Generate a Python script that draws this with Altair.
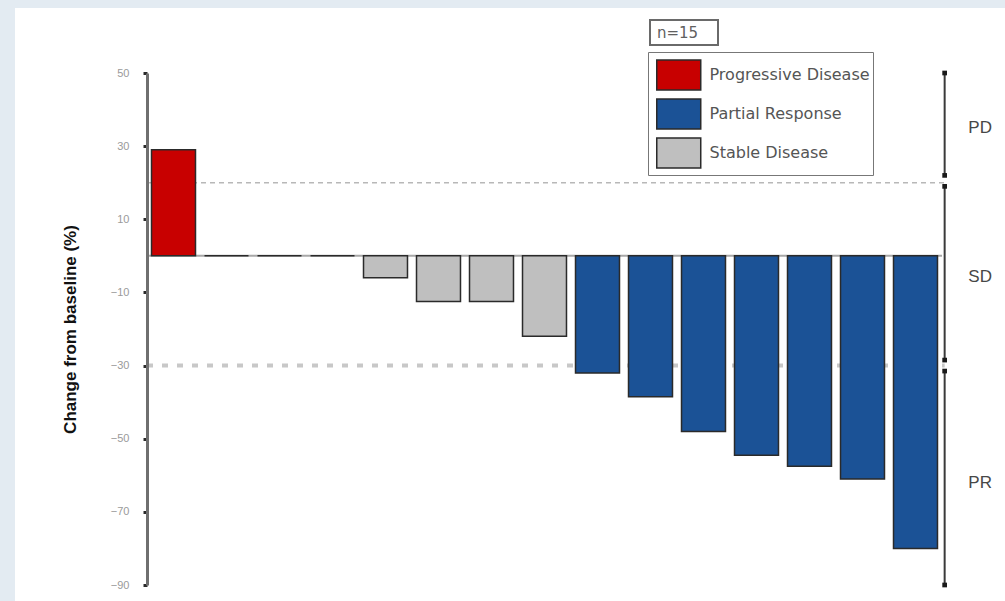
import altair as alt
import pandas as pd

# Best percentage change from baseline per patient (n=15), sorted
patients = list(range(1, 16))
change = [29, 0, 0, 0, -6, -12.5, -12.5, -22, -32, -38.5, -48, -54.5, -57.5, -61, -80]
response = (["Progressive Disease"]
            + ["Stable Disease"] * 7
            + ["Partial Response"] * 7)

categories = ["Progressive Disease", "Partial Response", "Stable Disease"]
fills = ["#c80000", "#1b5296", "#bfbfbf"]

# Response thresholds and the bracket segments on the right
threshold_pd = [20]
threshold_pr = [-30]
zone_labels = ["PD", "SD", "PR"]
zone_top = [50, 19, -31.5]
zone_bottom = [22, -28.5, -90]
zone_label_y = [35, -5.7, -62]

y_ticks = [50, 30, 10, -10, -30, -50, -70, -90]

X_MIN, X_MAX = 0.5, 16.5
BRACKET_X = 15.55
LABEL_X = 16.22
HALF_BAR = 0.415

bars_df = pd.DataFrame({"patient": patients, "change": change, "response": response})
bars_df["left"] = bars_df["patient"] - HALF_BAR
bars_df["right"] = bars_df["patient"] + HALF_BAR
bars_df["base"] = 0.0

zones_df = pd.DataFrame({"zone": zone_labels, "top": zone_top, "bottom": zone_bottom,
                         "label_y": zone_label_y})
zones_df["bx"] = BRACKET_X
zones_df["tx"] = LABEL_X
ends_df = pd.DataFrame({"y": zone_top + zone_bottom})
ends_df["bx"] = BRACKET_X

pd_df = pd.DataFrame({"y": threshold_pd, "x0": [X_MIN], "x1": [BRACKET_X]})
pr_df = pd.DataFrame({"y": threshold_pr, "x0": [X_MIN], "x1": [BRACKET_X]})
zero_df = pd.DataFrame({"y": [0], "x0": [X_MIN], "x1": [15.5]})

x_scale = alt.Scale(domain=[X_MIN, X_MAX], nice=False, zero=False)
y_scale = alt.Scale(domain=[-90, 50], nice=False, zero=False)
y_axis = alt.Axis(values=y_ticks, title="Change from baseline (%)", zindex=1)


def xq(field):
    return alt.X(field, type="quantitative", scale=x_scale, axis=None)


def yq(field):
    return alt.Y(field, type="quantitative", scale=y_scale, axis=y_axis)


# white panel behind the figure
panel = alt.Chart(pd.DataFrame({"k": [0]})).mark_rect(color="white").encode(
    x=alt.value(-132), x2=alt.value(858), y=alt.value(-65), y2=alt.value(528)
)

pd_line = alt.Chart(pd_df).mark_rule(
    color="#b8b8b8", strokeWidth=1.5, strokeDash=[5, 4]
).encode(y=yq("y"), x=xq("x0"), x2="x1")

pr_line = alt.Chart(pr_df).mark_rule(
    color="#c8c8c8", strokeWidth=4, strokeDash=[6, 9]
).encode(y=yq("y"), x=xq("x0"), x2="x1")

zero_line = alt.Chart(zero_df).mark_rule(
    color="#a8a8a8", strokeWidth=2
).encode(y=yq("y"), x=xq("x0"), x2="x1")

bars = alt.Chart(bars_df).mark_bar(stroke="#2a2a2a", strokeWidth=1.5).encode(
    x=xq("left"),
    x2="right",
    y=yq("change"),
    y2="base",
    color=alt.Color("response:N",
                    scale=alt.Scale(domain=categories, range=fills),
                    legend=alt.Legend(title=None, orient="none", legendX=501, legendY=-21)),
)

bracket = alt.Chart(zones_df).mark_rule(color="#3a3a3a", strokeWidth=2).encode(
    x=xq("bx"), y=yq("top"), y2="bottom",
)

bracket_ends = alt.Chart(ends_df).mark_square(color="#1a1a1a", size=22, opacity=1).encode(
    x=xq("bx"), y=yq("y"),
)

zone_text = alt.Chart(zones_df).mark_text(
    fontSize=17, color="#474747", font="Liberation Sans", align="center", baseline="middle"
).encode(x=xq("tx"), y=yq("label_y"), text="zone:N")

# "n=15" header box above the legend
header_box = alt.Chart(pd.DataFrame({"k": [0]})).mark_rect(
    fill="white", stroke="#6a6a6a", strokeWidth=2
).encode(x=alt.value(503), x2=alt.value(571), y=alt.value(-53), y2=alt.value(-28))

header_text = alt.Chart(pd.DataFrame({"t": ["n=15"]})).mark_text(
    fontSize=15, color="#606060", font="DejaVu Sans", align="left", baseline="middle"
).encode(x=alt.value(510), y=alt.value(-40), text="t:N")

chart = alt.layer(
    panel, pd_line, pr_line, zero_line, bars, bracket, bracket_ends, zone_text,
    header_box, header_text
).properties(
    width=848, height=512,
    autosize=alt.AutoSizeParams(type="none"),
    padding={"left": 147, "top": 73, "right": 10, "bottom": 16},
    background="#e3ebf2",
).configure_view(
    strokeWidth=0
).configure_axisY(
    grid=False,
    domainColor="#6f6f6f", domainWidth=3,
    tickColor="#2a2a2a", tickSize=4, tickWidth=3,
    labelColor="#9a9a9a", labelFontSize=11, labelFont="Liberation Sans", labelPadding=14,
    titleFont="Liberation Sans", titleFontSize=17, titleFontWeight="bold", titleColor="#111111",
    titleAngle=270, titleAlign="center", titleBaseline="middle",
    titleX=-77, titleY=256,
).configure_legend(
    strokeColor="#777777", fillColor="white",
    padding=3, rowPadding=0,
    symbolType="M-0.74,-0.78H1.545V0.78H-0.74Z", symbolSize=1482,
    symbolOpacity=1,
    labelFont="DejaVu Sans", labelFontSize=16, labelColor="#555555", labelOffset=18.5,
    labelLimit=300,
)

chart.save("out.html", embed_options={"renderer": "svg", "actions": False})
